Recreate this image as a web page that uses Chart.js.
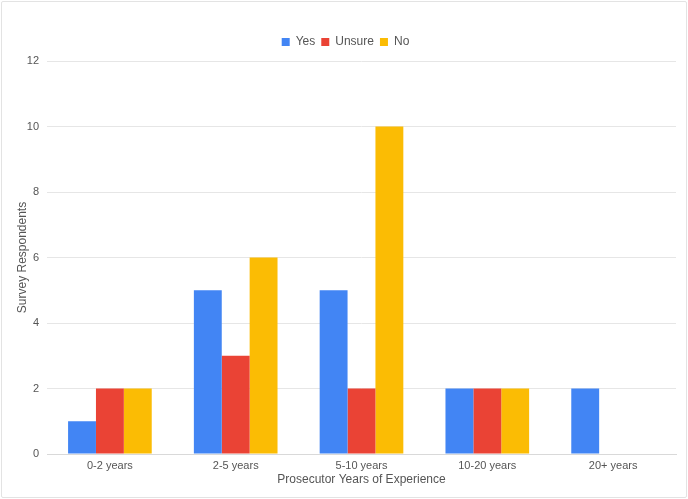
<!DOCTYPE html>
<html>
<head>
<meta charset="utf-8">
<script src="https://cdn.jsdelivr.net/npm/chart.js@4.4.0/dist/chart.umd.min.js"></script>
<style>
  html, body { margin: 0; padding: 0; background: #fff; }
  #box {
    position: absolute; left: 1px; top: 1px;
    width: 684px; height: 495px;
    border: 1px solid #e3e3e3; border-radius: 2px;
  }
</style>
</head>
<body>
<div id="box"><canvas id="chart" width="684" height="495"></canvas></div>
<script>
// DADOS //
const categories = ['0-2 years', '2-5 years', '5-10 years', '10-20 years', '20+ years']
const yesValues = [1, 5, 5, 2, 2]
const unsureValues = [2, 3, 2, 2, 0]
const noValues = [2, 6, 10, 2, 0]
const yTicks = [0, 2, 4, 6, 8, 10, 12]

const textColor = '#555'
const fontFamily = "'Liberation Sans', Arial, sans-serif"

Chart.defaults.font.family = fontFamily
Chart.defaults.color = textColor

// ESPAÇO EXTRA ABAIXO DA LEGENDA //
const legendGap = {
    id: 'legendGap',
    beforeInit(chart) {
        const fit = chart.legend.fit
        chart.legend.fit = function () {
            fit.call(this)
            this.height += 3
        }
    }
}

const ctx = document.getElementById('chart').getContext('2d')

new Chart(ctx, {
    type: 'bar',
    data: {
        labels: categories,
        datasets: [
            { label: 'Yes', data: yesValues, backgroundColor: '#4285F4' },
            { label: 'Unsure', data: unsureValues, backgroundColor: '#EA4335' },
            { label: 'No', data: noValues, backgroundColor: '#FBBC04' }
        ]
    },
    options: {
        responsive: false,
        animation: false,
        categoryPercentage: 0.665,
        barPercentage: 1,
        layout: { padding: { top: 28, right: 10, bottom: 8, left: 13 } },
        plugins: {
            legend: {
                position: 'top',
                labels: {
                    usePointStyle: true,
                    pointStyle: 'rect',
                    boxWidth: 8,
                    boxHeight: 8,
                    padding: 6,
                    font: { size: 12 },
                    color: textColor
                }
            },
            tooltip: { enabled: false }
        },
        scales: {
            x: {
                grid: { display: false, drawTicks: false },
                border: { color: '#d9d9d9' },
                ticks: { padding: 5, font: { size: 11 }, color: textColor },
                title: {
                    display: true,
                    text: 'Prosecutor Years of Experience',
                    font: { size: 12 },
                    color: textColor,
                    padding: { top: 1, bottom: 2 }
                },
                afterFit: (scale) => { scale.height = 35 }
            },
            y: {
                min: 0,
                max: 12,
                afterBuildTicks: (scale) => { scale.ticks = yTicks.map(v => ({ value: v })) },
                grid: { color: '#e6e6e6', drawTicks: false },
                border: { display: false },
                ticks: { padding: 8, font: { size: 11 }, color: textColor },
                title: {
                    display: true,
                    text: 'Survey Respondents',
                    font: { size: 12 },
                    color: textColor,
                    padding: { top: 0, bottom: 0 }
                },
                afterFit: (scale) => { scale.width = 32 }
            }
        }
    },
    plugins: [legendGap]
})
</script>
</body>
</html>
